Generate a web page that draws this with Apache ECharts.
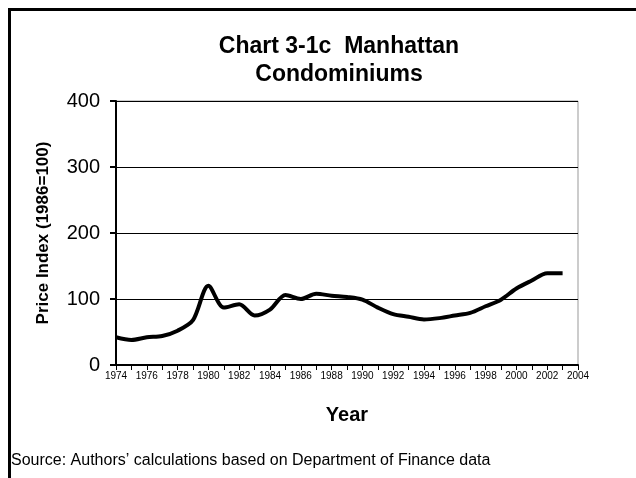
<!DOCTYPE html>
<html>
<head>
<meta charset="utf-8">
<script src="https://cdn.jsdelivr.net/npm/echarts@6/dist/echarts.min.js"></script>
<style>
  html, body { margin: 0; padding: 0; background: #fff; }
  #chart { width: 636px; height: 478px; }
</style>
</head>
<body>
<div id="chart"></div>
<script>
// years and price index (1986=100)
var years = [1974, 1975, 1976, 1977, 1978, 1979, 1980, 1981, 1982, 1983,
  1984, 1985, 1986, 1987, 1988, 1989, 1990, 1991, 1992, 1993,
  1994, 1995, 1996, 1997, 1998, 1999, 2000, 2001, 2002, 2003];
var priceIndex = [42, 38, 42, 44, 52, 68, 120, 87, 92, 75,
  84, 106, 100, 108, 105, 103, 99, 87, 77, 73,
  69, 71, 75, 79, 89, 99, 116, 128, 139, 139];
var yTicks = [0, 100, 200, 300, 400];

var font = "Liberation Sans";
var myChart = echarts.init(document.getElementById("chart"));

var option = {
  animation: false,
  backgroundColor: "#fff",
  title: {
    text: "Chart 3-1c  Manhattan\nCondominiums",
    left: 334,
    textAlign: "center",
    top: 28,
    textStyle: {
      fontFamily: font,
      fontSize: 23,
      fontWeight: "bold",
      color: "#000",
      lineHeight: 28,
    },
  },
  grid: {
    left: 116,
    right: 58,
    top: 101,
    bottom: 113,
    show: true,
    borderColor: "#999",
    borderWidth: 1,
  },
  xAxis: {
    type: "value",
    min: 1974,
    max: 2004,
    interval: 1,
    name: "Year",
    nameLocation: "middle",
    nameGap: 40,
    nameTextStyle: {
      fontFamily: font,
      fontSize: 20,
      fontWeight: "bold",
      color: "#000",
    },
    axisLine: { lineStyle: { color: "#000", width: 2 } },
    axisTick: { show: true, length: 5, lineStyle: { color: "#000", width: 1 } },
    splitLine: { show: false },
    axisLabel: {
      fontFamily: font,
      fontSize: 10,
      color: "#000",
      margin: 6,
      formatter: function (v) {
        return v % 2 === 0 ? String(v) : "";
      },
    },
  },
  yAxis: {
    type: "value",
    min: yTicks[0],
    max: yTicks[yTicks.length - 1],
    interval: 100,
    name: "Price Index (1986=100)",
    nameLocation: "middle",
    nameGap: 64,
    nameTextStyle: {
      fontFamily: font,
      fontSize: 17,
      fontWeight: "bold",
      color: "#000",
    },
    axisLine: { show: true, lineStyle: { color: "#000", width: 2 } },
    axisTick: { show: true, length: 6, lineStyle: { color: "#000", width: 2 } },
    splitLine: { show: true, lineStyle: { color: "#000", width: 1 } },
    axisLabel: {
      fontFamily: font,
      fontSize: 20,
      color: "#000",
      margin: 16,
    },
  },
  graphic: [
    {
      type: "rect",
      shape: { x: 9.5, y: 9.5, width: 640, height: 480 },
      style: { fill: null, stroke: "#000", lineWidth: 3 },
    },
    {
      type: "text",
      left: 11,
      top: 453,
      style: {
        text: "Source: Authors\u2019 calculations based on Department of Finance data",
        fontFamily: font,
        fontSize: 16,
        fill: "#000",
      },
    },
  ],
  series: [
    {
      type: "line",
      data: years.map(function (y, i) {
        return [y, priceIndex[i]];
      }),
      smooth: 0.3,
      symbol: "none",
      lineStyle: { color: "#000", width: 4 },
    },
  ],
};

myChart.setOption(option);
window.addEventListener("resize", function () {
  myChart.resize();
});
</script>
</body>
</html>
